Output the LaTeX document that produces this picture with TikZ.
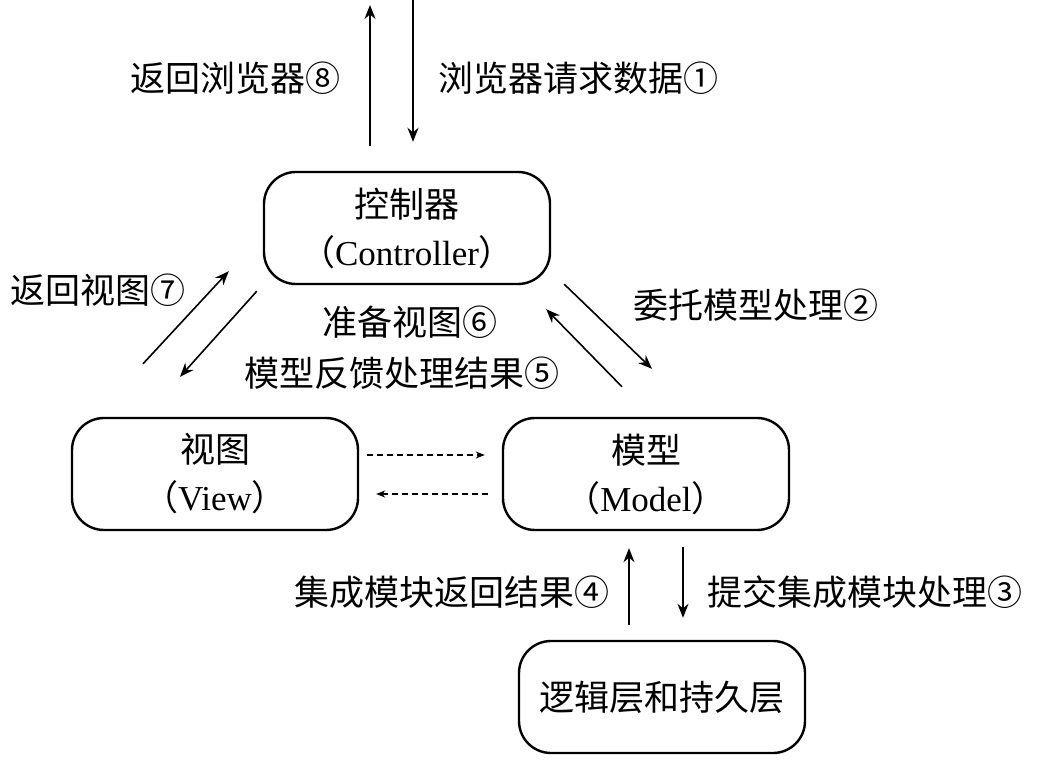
\documentclass[tikz,border=0pt]{standalone}
\usepackage{fontspec}
\setmainfont{Liberation Serif}
\newfontfamily\cjk{Noto Sans CJK SC}
\usetikzlibrary{arrows.meta}
\tikzset{
  box/.style={draw, line width=1.2pt, rounded corners=16pt, minimum width=143pt, minimum height=56pt, inner sep=0pt, align=center, font=\fontsize{17.5}{24}\selectfont},
  lbl/.style={font=\cjk\fontsize{17.5}{21}\selectfont, inner sep=0pt},
  arr/.style={line width=0.8pt, -{Stealth[length=7pt,width=5.5pt]}},
  darr/.style={line width=0.6pt, dash pattern=on 3pt off 2pt, -{Stealth[length=4.5pt,width=3.5pt]}}
}
\begin{document}
\begin{tikzpicture}[x=0.5pt,y=-0.5pt]
\useasboundingbox (0,0) rectangle (1044,764);
% boxes
\node[box] (ctrl) at (407,228) {{\cjk 控制器}\\{\cjk （}Controller{\cjk ）}};
\node[box] (view) at (215,474) {{\cjk 视图}\\{\cjk （}View{\cjk ）}};
\node[box] (model) at (646,474) {{\cjk 模型}\\{\cjk （}Model{\cjk ）}};
\node[box] (bot) at (662,697) {\cjk 逻辑层和持久层};
% free ends
\coordinate (top1) at (370,5);
\coordinate (top2) at (413,0);
% top arrows
\draw[arr] ([shift={(-37,-25)}]ctrl.north) -- (top1);
\draw[arr] (top2) -- ([shift={(6,-29)}]ctrl.north);
% left diagonals
\draw[arr] ([shift={(-72,-53)}]view.north) -- ([shift={(-34,-14)}]ctrl.south west);
\draw[arr] ([shift={(-6,6)}]ctrl.south west) -- ([shift={(-35,-40)}]view.north);
% right diagonals
\draw[arr] ([shift={(13,-1)}]ctrl.south east) -- ([shift={(6,-48)}]model.north);
\draw[arr] ([shift={(-24,-30)}]model.north) -- ([shift={(-5,24)}]ctrl.south east);
% dashed
\draw[darr] ([shift={(8,-19)}]view.east) -- ([shift={(-17,-19)}]model.west);
\draw[darr] ([shift={(-14,20)}]model.west) -- ([shift={(17,20)}]view.east);
% bottom
\draw[arr] ([shift={(-33,-15)}]bot.north) -- ([shift={(-17,17)}]model.south);
\draw[arr] ([shift={(37,16)}]model.south) -- ([shift={(21,-22)}]bot.north);
% labels
\node[lbl] (l8) at (235,78) {返回浏览器⑧};
\node[lbl] (l1) at (578,78) {浏览器请求数据①};
\node[lbl] (l7) at (98,290) {返回视图⑦};
\node[lbl] (l6) at (410,322) {准备视图⑥};
\node[lbl] (l5) at (402,373) {模型反馈处理结果⑤};
\node[lbl] (l2) at (756,305) {委托模型处理②};
\node[lbl] (l4) at (452,592) {集成模块返回结果④};
\node[lbl] (l3) at (865,592) {提交集成模块处理③};
\end{tikzpicture}
\end{document}
